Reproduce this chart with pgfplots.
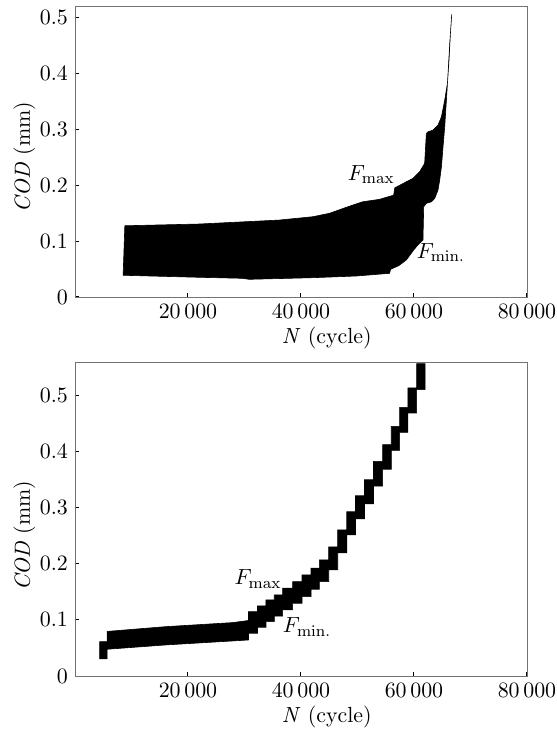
\documentclass[border=0pt]{standalone}
\usepackage{pgfplots}
\pgfplotsset{compat=1.18}
\begin{document}
\begin{tikzpicture}[font=\fontsize{10.95}{13}\selectfont]
\useasboundingbox (-37.5pt,-26.5pt) rectangle (241pt,338pt);
\pgfplotsset{
 myaxis/.style={
  scale only axis, width=226pt, xmin=0, xmax=80000, ymin=0,
  xtick={20000,40000,60000,80000},
  scaled x ticks=false,
  /pgf/number format/1000 sep={\,},
  tick pos=left, tick align=inside, major tick length=2pt,
  axis line style={black!55},
  tick style={black, line width=0.5pt},
  xlabel={\textit{N} (cycle)},
  ylabel={\textit{COD} (mm)},
  x label style={at={(axis description cs:0.557,0)}, anchor=center, yshift=-20.5pt},
  tick label style={font=\fontsize{10.95}{13}\selectfont},
 }
}
% ---------------- top panel ----------------
\begin{axis}[myaxis, at={(0,189.5pt)}, anchor=south west, height=145.5pt, ymax=0.52,
  ytick={0,0.1,0.2,0.3,0.4,0.5},
  y label style={at={(axis description cs:-0.112,0.4808)}, anchor=center}]
\addplot[fill=black, draw=black, line width=0.3pt] coordinates {
 (8820,0.1273) (21960,0.1304) (33800,0.1363) (36160,0.1375) (42070,0.1434)
 (45030,0.1495) (48000,0.1602) (50940,0.1702) (53900,0.1745) (56400,0.182)
 (56600,0.195) (58640,0.2059) (59820,0.212) (61000,0.2238) (61890,0.2388)
 (62190,0.2923) (62480,0.2952) (63370,0.2982) (64250,0.3071) (64860,0.322)
 (65440,0.3518) (65920,0.3816) (66200,0.4232) (66450,0.4709) (66680,0.505)
 (66330,0.453) (66030,0.3995) (65740,0.3518) (65440,0.3041) (65140,0.2684)
 (64860,0.2327) (64550,0.2089) (64250,0.1911) (63670,0.1763) (63080,0.1702)
 (62190,0.1673) (61720,0.1613) (61590,0.1018) (60700,0.0930) (59940,0.0839)
 (58640,0.0661) (57300,0.0560) (55860,0.0495) (55680,0.0423) (49770,0.0375)
 (42070,0.0345) (30830,0.0316) (29640,0.0334) (21960,0.0352) (8520,0.0388)
} -- cycle;
\node[anchor=base west, inner sep=0pt] at (axis cs:48225,0.209) {$F_{\mathrm{max}}$};
\node[anchor=base west, inner sep=0pt] at (axis cs:60420,0.069) {$F_{\mathrm{min.}}$};
\end{axis}
% ---------------- bottom panel ----------------
\begin{axis}[myaxis, at={(0,0)}, anchor=south west, height=157pt, ymax=0.56,
  ytick={0,0.1,0.2,0.3,0.4,0.5},
  y label style={at={(axis description cs:-0.112,0.4464)}, anchor=center}]
\addplot[fill=black, draw=black, line width=0.3pt] coordinates {
 (4380,0.0305) (4380,0.0613) (5680,0.0613) (5680,0.0795) (16045,0.088)
 (27870,0.0952) (30710,0.099) (30710,0.1148) (32300,0.1148) (32300,0.125)
 (33800,0.125) (33800,0.1357) (35270,0.1357) (35270,0.1446) (36740,0.1446)
 (36740,0.1566) (38520,0.1566) (38520,0.1684) (40180,0.1684) (40180,0.1804)
 (41780,0.1804) (41780,0.1923) (43250,0.1923) (43250,0.2071) (44910,0.2071)
 (44910,0.2304) (46500,0.2304) (46500,0.2607) (48100,0.2607) (48100,0.2929)
 (49650,0.2929) (49650,0.3214) (51240,0.3214) (51240,0.35) (52840,0.35)
 (52840,0.3827) (54440,0.3827) (54440,0.4125) (55980,0.4125) (55980,0.4452)
 (57450,0.4452) (57450,0.4791) (58930,0.4791) (58930,0.5138) (60470,0.5138)
 (60470,0.557) (61980,0.557)
 (61980,0.5107) (60470,0.5107) (60470,0.4691) (58930,0.4691) (58930,0.4345)
 (57450,0.4345) (57450,0.4023) (55980,0.4023) (55980,0.3688) (54440,0.3688)
 (54440,0.3388) (52840,0.3388) (52840,0.3071) (51240,0.3071) (51240,0.2804)
 (49650,0.2804) (49650,0.2518) (48100,0.2518) (48100,0.2196) (46500,0.2196)
 (46500,0.1893) (44910,0.1893) (44910,0.1684) (43250,0.1684) (43250,0.1548)
 (41780,0.1548) (41780,0.1416) (40180,0.1416) (40180,0.1298) (38520,0.1298)
 (38520,0.1179) (36740,0.1179) (36740,0.107) (35270,0.107) (35270,0.097)
 (33800,0.097) (33800,0.087) (32300,0.087) (32300,0.0763) (30710,0.0763)
 (30710,0.0643) (27870,0.0625) (16045,0.0554) (5680,0.0477) (5680,0.0305)
} -- cycle;
\node[anchor=base west, inner sep=0pt] at (axis cs:28170,0.1625) {$F_{\mathrm{max}}$};
\node[anchor=base west, inner sep=0pt] at (axis cs:36740,0.0768) {$F_{\mathrm{min.}}$};
\end{axis}
\end{tikzpicture}
\end{document}
